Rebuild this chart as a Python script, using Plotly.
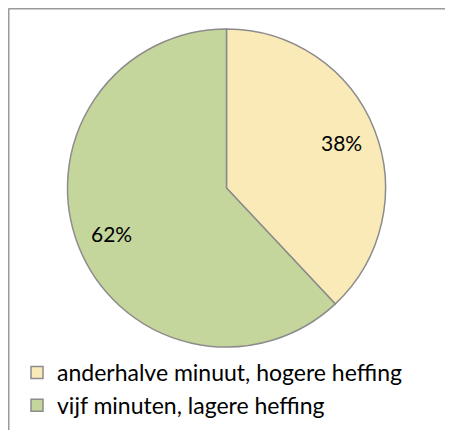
import math
import plotly.graph_objects as go

# data
labels = ["anderhalve minuut, hogere heffing", "vijf minuten, lagere heffing"]
values = [38, 62]
colors = ["#F9EAB8", "#C4D69C"]

# page has an 8px body margin, so the figure is drawn 8px smaller
W, H = 445, 422

# pie placement (pixels inside the figure)
cx, cy, r = 218.5, 180.0, 159.0

fig = go.Figure(
    go.Pie(
        labels=labels,
        values=values,
        sort=False,
        direction="clockwise",
        rotation=0,
        marker={"colors": colors, "line": {"color": "#8c8c8c", "width": 1.5}},
        textinfo="none",
        domain={"x": [(cx - r) / W, (cx + r) / W],
                "y": [1 - (cy + r) / H, 1 - (cy - r) / H]},
        hoverinfo="label+percent",
    )
)

# percentage labels placed on each slice's mid angle
total = sum(values)
start = 0.0
for v in values:
    mid = (start + v / 2) / total * 2 * math.pi
    start += v
    px = cx + 0.78 * r * math.sin(mid)
    py = cy - 0.78 * r * math.cos(mid)
    fig.add_annotation(
        x=px / W, y=1 - py / H, xref="paper", yref="paper",
        xanchor="center", yanchor="middle",
        text=f"{round(v / total * 100)}%", showarrow=False,
        font={"family": "Lato", "size": 21, "color": "#000000"},
    )

# frame lines (only top and left visible in the reference)
fig.add_shape(type="line", xref="paper", yref="paper",
              x0=0.5 / W, x1=1, y0=1 - 0.5 / H, y1=1 - 0.5 / H,
              line={"color": "#9a9a9a", "width": 2})
fig.add_shape(type="line", xref="paper", yref="paper",
              x0=0.5 / W, x1=0.5 / W, y0=0, y1=1 - 0.5 / H,
              line={"color": "#9a9a9a", "width": 2})

fig.update_layout(
    width=W,
    height=H,
    margin={"l": 0, "r": 0, "t": 0, "b": 0},
    paper_bgcolor="white",
    plot_bgcolor="white",
    showlegend=True,
    legend={
        "x": 9 / W,
        "y": 1 - 343 / H,
        "xanchor": "left",
        "yanchor": "top",
        "font": {"family": "Lato", "size": 23, "color": "#000000"},
        "bgcolor": "rgba(0,0,0,0)",
        "itemwidth": 30,
    },
)

fig.write_html("out.html")
